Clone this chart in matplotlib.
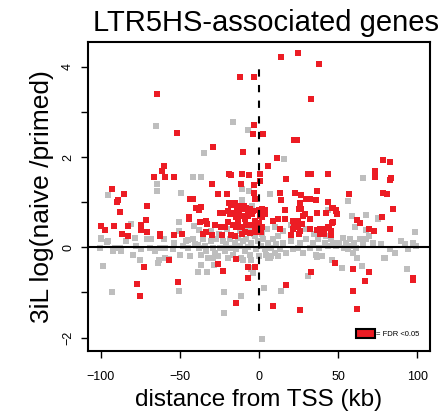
import matplotlib
matplotlib.use("Agg")
import matplotlib.pyplot as plt
from matplotlib.patches import Patch

plt.rcParams['font.family'] = ['Liberation Sans', 'DejaVu Sans']

# non-significant genes (grey)
gray_x = [-100.6, -99.6, -95.4, -92.2, -91.2, -88.0, -87.0, -84.0, -80.6, -79.6, -78.5, -77.5, -74.3,
          -70.1, -69.0, -68.0, -65.9, -63.8, -62.7, -59.6, -56.8, -54.3, -50.5, -50.1, -47.9, -46.3,
          -44.8, -43.8, -41.7, -40.6, -38.5, -37.5, -36.4, -35.4, -34.3, -33.2, -32.2, -30.1, -29.0,
          -28.0, -26.9, -25.9, -24.8, -22.7, -21.7, -20.6, -19.5, -18.5, -17.4, -16.4, -15.3, -14.3,
          -13.2, -12.2, -11.1, -10.1, -9.0, -8.0, -6.9, -5.9, -4.8, -4.2, -3.8, -2.7, -1.6, -0.6, 0.4,
          1.5, 2.5, 3.6, 4.7, 5.7, 6.8, 7.8, 8.8, 9.9, 10.9, 12.0, 13.1, 15.2, 17.3, 20.4, 21.5, 24.6,
          25.7, 27.8, 29.9, 32.0, 34.1, 36.2, 37.3, 38.3, 41.5, 42.5, 43.6, 45.7, 46.7, 48.8, 50.9,
          53.0, 54.1, 55.2, 56.2, 57.3, 58.3, 59.4, 60.4, 61.5, 63.6, 65.7, 67.8, 69.9, 72.0, 75.2,
          77.3, 79.4, 82.6, 85.8, 90.0, 92.1, 94.2, 97.4, 98.4, 99.5,
          -64.8, -16.2, -6.7, -34.5, 16.2, -41.7, -36.6, -64.4, -64.4, -95.1, -49.3, -80.8, -50.7,
          -50.3, -40.8, -37.7, -99.7, -96.0, -70.7, -68.6, -59.8, -53.9, -45.0, -10.5, -6.5, 6.8,
          -10.5, 66.0, 56.5, 67.8, 75.4, 58.6, 60.6, 67.4, 43.4,
          -8.0, -5.0, -3.0, -12.0, -1.0, 2.0, 5.0, 10.0, 15.0, -20.0, -25.0, -30.0, 30.0, 35.0, 20.0,
          12.0, -15.0,
          -98.5, -75.2, -92.6, -50.5, -21.9, -11.1, -22.1, 30.8, 14.3, 3.0, 1.7, 52.4, 65.3, 79.2,
          93.5, 61.9, 5.5, 7.6, 11.8, 36.6, 40.2, 45.9, -38.7, -33.0, -36.6, -28.2, -29.2, -64.0,
          -62.9, -59.4, -3.5, -5.1, -9.7, -5.1]
gray_y = [-0.01, 0.19, 0.14, -0.08, -0.01, -0.01, -0.08, 0.14, 0.51, -0.18, 0.21, 0.03, -0.04,
          0.18, -0.01, 0.19, -0.08, -0.34, -0.01, -0.01, -0.25, -0.04, 0.56, -0.16, 0.03, 0.14,
          -0.01, -0.19, 0.18, 0.07, 0.04, -0.01, -0.16, 0.18, 0.03, -0.08, -0.23, 0.14, -0.01,
          -0.12, 0.18, -0.19, -0.01, 0.14, -0.08, 0.07, -0.23, 0.18, -0.01, -0.16, 0.10, -0.04,
          0.21, 0.03, -0.23, 0.14, -0.08, 0.18, 0.01, -0.16, 0.10, 0.92, -0.45, 0.25, -0.04, 0.14, -0.19,
          0.03, 0.18, -0.04, -0.16, 0.10, -0.23, -0.01, 0.18, -0.12, 0.07, -0.19, -0.04, 0.10, -0.12, 0.14, -0.04, -0.01,
          0.10, -0.12, 0.18, -0.01, 0.10, -0.16, 0.18, -0.01, 0.10, 0.25, 0.03, 0.18, 0.10, 0.03, 0.10,
          0.21, -0.01, 0.10, -0.04, 0.18, 0.03, -0.12, 0.10, -0.01, 0.18, 0.10, 0.18, 0.25, 0.10, 0.62,
          0.07, -0.23, -0.04, -0.12, 0.14, 0.07, -0.04, 0.10, 0.33, 0.03,
          2.69, 2.78, 2.60, 2.09, 1.95, 1.55, 1.55, 1.40, 1.24, 1.16, 1.21, 0.51, 0.56,
          0.36, 0.47, 0.38, 0.21, 0.12, 0.18, 0.18, 0.18, 0.10, 0.16, 1.29, 1.25, 1.18,
          1.05, 1.53, 1.03, 0.72, 0.64, 0.69, 0.46, 0.38, 0.83,
          0.35, 0.40, 0.30, 0.35, 0.45, 0.30, 0.40, 0.45, 0.35, 0.40, 0.30, 0.35, 0.40, 0.30, 0.50,
          0.25, 0.50,
          -0.41, -0.29, -0.99, -0.96, -0.99, -1.08, -1.46, -0.64, -0.97, -0.90, -2.04, -0.47, -0.41, -0.24,
          -0.48, -0.24, -0.23, -0.19, -0.19, -0.21, -0.19, -0.29, -0.54, -0.54, -0.39, -0.39, -0.23, -0.34,
          -0.29, -0.23, -0.58, -0.49, -0.29, -0.29]

# FDR < 0.05 (red)
red_x = [-64.6, -11.6, -3.2, -51.5, -3.2, -4.0, -29.0, -10.1, 13.7, 24.7, 38.3, 33.1, 2.8, 21.9, 24.1,
         -59.8, -61.5, -66.5, -59.3, -53.4, -93.0, -85.0, -88.8, -89.9, -43.8, -41.9, -70.5, -87.8,
         -39.5, -38.1, -36.4, -44.0, -44.0, -71.4, -37.0, -99.7, -97.0, -91.4, -82.8, -74.5, -74.3,
         -70.5, -86.3, -82.5, -62.3, -62.3, -53.9, -48.6, -57.0,
         11.6, 5.9, -18.9, -17.4, -10.7, -6.3, 0.6, 0.6, 17.3, 31.0, 33.1, -29.4, -11.1, -3.2, -25.5,
         -20.2, -3.2, 13.1, 23.0, 26.8, -2.7, 14.1, 29.9, 32.0, 25.7, 25.3,
         -19.1, -17.4, -14.9, -13.9, -12.6, -10.7, -9.5, -8.0, -6.9, -5.9, -3.8, 0.4, 2.1, 4.0,
         -24.8, -22.7, -19.5, -18.0, -15.8, -14.3, -12.6, -10.5, -8.6, -6.9, -4.1, -2.5, 0.6, 2.1, 3.6,
         -33.2, -32.8, -28.0, -23.8, -21.7, -19.5, -16.4, -14.7, -13.2, -10.7, -8.4, -4.8, -2.7, 2.1, 0.4,
         -35.4, -33.7, -29.4, -23.1, -17.4, -15.3, -10.5, -9.0, -5.4, -2.7, 1.5,
         43.9, 37.0, 36.3, 43.9, 46.4, 48.5, 26.4, 16.7, 8.8, 12.1, 16.7, 21.5, 24.6, 27.7, 29.4, 32.4,
         37.0, 42.7, 46.1, 13.1, 21.5, 22.5, 24.6, 27.3, 25.8, 32.4, 36.7, 38.4, 41.1, 43.9, 20.5,
         25.2, 41.1,
         78.6, 83.0, 73.3, 73.1, 82.6, 83.8, 78.3, 80.9, 57.1, 47.0, 48.6, 49.3, 84.9, 78.1, 62.3,
         64.2, 46.6, 36.9, 40.7, 44.5, 45.5, 45.5, 38.5, 69.3, 72.9, 82.8, 48.0,
         -72.8, -77.3, -75.2, -50.9, -14.7, -25.5, -22.7, -14.5, -6.7, -2.3, -7.1, 32.8, 17.1, 8.7,
         25.7, 59.4, 69.5, 66.8, 59.6, 61.7, 97.1, 97.3]
red_y = [3.40, 3.78, 3.78, 2.53, 2.70, 2.51, 2.23, 2.12, 4.22, 4.31, 4.07, 3.29, 2.50, 2.38, 2.38,
         1.80, 1.68, 1.55, 1.55, 1.55, 1.30, 1.18, 1.05, 1.01, 1.07, 1.07, 0.92, 0.78,
         0.86, 0.82, 0.90, 0.66, 0.62, 0.61, 0.56, 0.48, 0.38, 0.48, 0.48, 0.50, 0.38,
         0.33, 0.29, 0.26, 0.30, 0.26, 0.27, 0.29, -0.29,
         1.97, 1.80, 1.62, 1.60, 1.62, 1.60, 1.62, 1.46, 1.51, 1.62, 1.62, 1.41, 1.40, 1.38, 1.19,
         1.19, 1.21, 1.21, 1.21, 1.15, 1.08, 1.05, 1.07, 1.07, 0.97, 0.84,
         0.97, 0.94, 0.98, 0.88, 0.92, 0.84, 0.92, 0.88, 0.81, 0.84, 0.81, 0.82, 0.84, 0.82,
         0.77, 0.75, 0.81, 0.73, 0.77, 0.68, 0.73, 0.69, 0.62, 0.69, 0.73, 0.58, 0.69, 0.68, 0.73,
         0.58, 0.52, 0.49, 0.44, 0.46, 0.55, 0.49, 0.44, 0.58, 0.46, 0.49, 0.49, 0.44, 0.44, 0.53,
         0.29, 0.34, 0.27, 0.27, 0.27, 0.25, 0.30, 0.34, 0.31, 0.34, 0.33,
         1.62, 1.25, 1.04, 1.01, 0.88, 0.83, 0.84, 0.82, 0.58, 0.62, 0.62, 0.58, 0.58, 0.69, 0.73, 0.62,
         0.75, 0.77, 0.53, 0.40, 0.40, 0.49, 0.46, 0.51, 0.37, 0.40, 0.38, 0.40, 0.40, 0.44, 0.27,
         0.29, 0.29,
         1.94, 1.88, 1.69, 1.55, 1.49, 1.54, 1.21, 1.17, 1.18, 0.88, 0.81, 0.73, 0.84, 0.67, 0.61,
         0.53, 0.56, 0.38, 0.38, 0.42, 0.36, 0.27, 0.29, 0.40, 0.35, 0.40, -0.34,
         -0.44, -0.81, -1.09, -0.78, -1.24, -0.38, -0.52, -0.26, -0.43, -0.44, -0.67, -0.54, -0.84, -1.31,
         -1.40, -0.49, -0.55, -0.74, -0.97, -1.36, -0.67, -0.73]

red = '#EC1C24'
grey = '#BEBEBE'

fig = plt.figure(figsize=(4.44, 4.15), dpi=100)
ax = fig.add_axes([0.198, 0.154, 0.770, 0.745])

ax.scatter(gray_x, gray_y, s=19, marker='s', color=grey, linewidths=0, zorder=2)
ax.scatter(red_x, red_y, s=19, marker='s', color=red, linewidths=0, zorder=3)

ax.axhline(0, color='black', lw=1.5, zorder=4)
ax.vlines(0, -1.41, 4.13, color='black', lw=1.5, linestyles=(0, (3.5, 4)), zorder=4)

ax.set_xlim(-108, 108)
ax.set_ylim(-2.3, 4.55)
ax.set_xticks([-100, -50, 0, 50, 100])
ax.set_yticks([-2, -1, 0, 1, 2, 3, 4])
ax.set_yticklabels(['\u22122', '', '0', '', '2', '', '4'], rotation=90, va='center')
ax.set_xticklabels(['\u2212100', '\u221250', '0', '50', '100'])
ax.tick_params(axis='both', direction='out', length=5, width=1, labelsize=9)
ax.tick_params(axis='x', pad=9)
ax.tick_params(axis='y', pad=5)
for sp in ax.spines.values():
    sp.set_linewidth(1.5)

ax.set_title('LTR5HS-associated genes', fontsize=21, pad=8, x=0.52)
ax.set_xlabel('distance from TSS (kb)', fontsize=17.5, labelpad=5)
ax.set_ylabel('3iL log(naive /primed)', fontsize=19, labelpad=6)

ax.legend(handles=[Patch(facecolor=red, edgecolor='black', linewidth=1.5)],
          labels=['= FDR <0.05'], loc='lower right', bbox_to_anchor=(0.985, 0.025),
          frameon=False, fontsize=5.5, handlelength=2.4, handleheight=1.3,
          handletextpad=0.15, borderpad=0.2)

fig.savefig('out.png', dpi=100)
